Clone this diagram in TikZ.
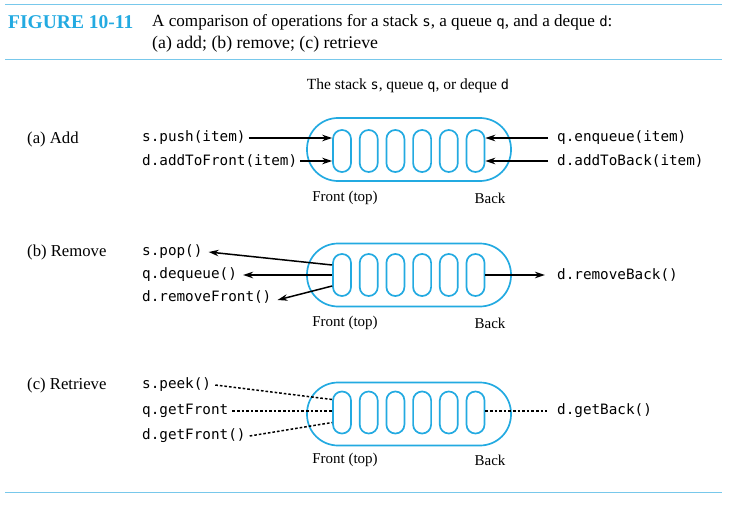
\documentclass[tikz,border=0pt]{standalone}
\usepackage{fontspec}
\setmainfont{Liberation Serif}
\newfontfamily\codefont{DejaVu Sans Mono}
\usetikzlibrary{arrows.meta,calc}
\definecolor{figblue}{RGB}{35,170,225}
\definecolor{rulblue}{RGB}{120,200,235}
\begin{document}
\begin{tikzpicture}[x=1pt,y=-1pt,
 code/.style={font=\codefont\fontsize{14.3}{16}\selectfont, inner sep=0pt, anchor=west},
 lbl/.style={font=\fontsize{15}{18}\selectfont, inner sep=0pt},
 sec/.style={font=\fontsize{16.7}{19}\selectfont, inner sep=0pt, anchor=west},
 capsule/.style={draw=figblue, line width=1.7pt, minimum width=204pt, minimum height=63pt, rounded corners=31pt, inner sep=0pt},
 cell/.style={draw=figblue, line width=1.7pt, minimum width=18pt, minimum height=42pt, rounded corners=8.9pt, inner sep=0pt},
 arr/.style={-{Stealth[length=10pt,width=6.5pt]}, line width=1.5pt},
 dotl/.style={line width=1.5pt, dash pattern=on 2.6pt off 2pt},
 rulel/.style={draw=rulblue, line width=1pt}]
\useasboundingbox (0,0) rectangle (739,508);
% rules
\coordinate (r1a) at (5,5); \coordinate (r1b) at (722,5);
\coordinate (r2a) at (5,60); \coordinate (r2b) at (722,60);
\coordinate (r3a) at (5,492); \coordinate (r3b) at (722,492);
\draw[rulel] (r1a) -- (r1b);
\draw[rulel] (r2a) -- (r2b);
\draw[rulel] (r3a) -- (r3b);
% header
\node[anchor=west, inner sep=0pt, font=\bfseries\fontsize{19.5}{22}\selectfont, text=figblue] (fig) at (8,22) {FIGURE 10-11};
\node[anchor=west, inner sep=0pt, font=\fontsize{17.1}{20}\selectfont] (cap1) at (152,22) {A comparison of operations for a stack {\codefont\fontsize{14}{15}\selectfont s}, a queue {\codefont\fontsize{14}{15}\selectfont q}, and a deque {\codefont\fontsize{14}{15}\selectfont d}:};
\node[anchor=west, inner sep=0pt, font=\fontsize{17.8}{20}\selectfont] (cap2) at (152,44) {(a) add; (b) remove; (c) retrieve};
\node[lbl, font=\fontsize{15.5}{18}\selectfont] (title) at (408,86) {The stack {\codefont\fontsize{13.5}{15}\selectfont s}, queue {\codefont\fontsize{13.5}{15}\selectfont q}, or deque {\codefont\fontsize{13.5}{15}\selectfont d}};
% section labels
\node[sec] (la) at (27,139) {(a) Add};
\node[sec] (lb) at (27,252) {(b) Remove};
\node[sec] (lc) at (27,385) {(c) Retrieve};
% capsules and cells
\node[capsule] (capa) at (409,149.5) {};
\node[capsule] (capb) at (409,275) {};
\node[capsule] (capc) at (409,414) {};
\foreach \i in {1,...,6} {
  \node[cell] (a\i) at ({342+26.7*(\i-1)},151) {};
  \node[cell] (b\i) at ({342+26.7*(\i-1)},275) {};
  \node[cell] (c\i) at ({342+26.7*(\i-1)},412.5) {};
}
% front/back labels
\node[lbl] (fa) at (345,198) {Front (top)};
\node[lbl] (ba) at (490,198) {Back};
\node[lbl] (fb) at (345,323) {Front (top)};
\node[lbl] (bb) at (490,323) {Back};
\node[lbl] (fc) at (345,460) {Front (top)};
\node[lbl] (bc) at (490,460) {Back};
% (a) add
\node[code] (push) at (142,138) {s.push(item)};
\node[code] (atf) at (142,161) {d.addToFront(item)};
\node[code] (enq) at (557,138) {q.enqueue(item)};
\node[code] (atb) at (557,161) {d.addToBack(item)};
\draw[arr] ($(push.east)+(3,0)$) -- (a1.west |- push.east);
\draw[arr] ($(atf.east)+(3,0)$) -- (a1.west |- atf.east);
\draw[arr] ($(enq.west)+(-9,0)$) -- (a6.east |- enq.west);
\draw[arr] ($(atb.west)+(-9,0)$) -- (a6.east |- atb.west);
% (b) remove
\node[code] (pop) at (142,252) {s.pop()};
\node[code] (deq) at (142,275) {q.dequeue()};
\node[code] (rmf) at (142,297) {d.removeFront()};
\node[code] (rmb) at (557,275) {d.removeBack()};
\coordinate (bs1) at ($(b1.west)+(0,-10)$);
\coordinate (bs3) at ($(b1.west)+(0,11)$);
\coordinate (pt1) at ($(pop.east)+(6,0)$);
\coordinate (pt3) at ($(rmf.east)+(6,3)$);
\draw[arr] (bs1) -- (pt1);
\draw[arr] (b1.west |- deq.east) -- ($(deq.east)+(6,0)$);
\draw[arr] (bs3) -- (pt3);
\draw[arr] (b6.east |- rmb.west) -- ($(rmb.west)+(-12,0)$);
% (c) retrieve
\node[code] (peek) at (142,385) {s.peek()};
\node[code] (gf) at (142,411) {q.getFront};
\node[code] (dgf) at (142,436) {d.getFront()};
\node[code] (gb) at (557,411) {d.getBack()};
\coordinate (cs1) at ($(c1.west)+(0,-13)$);
\coordinate (cs3) at ($(c1.west)+(0,10)$);
\draw[dotl] ($(peek.east)+(4,0)$) -- (cs1);
\draw[dotl] ($(gf.east)+(4,0)$) -- (c1.west |- gf.east);
\draw[dotl] ($(dgf.east)+(4,0)$) -- (cs3);
\draw[dotl] (c6.east |- gb.west) -- ($(gb.west)+(-10,0)$);
\end{tikzpicture}
\end{document}
